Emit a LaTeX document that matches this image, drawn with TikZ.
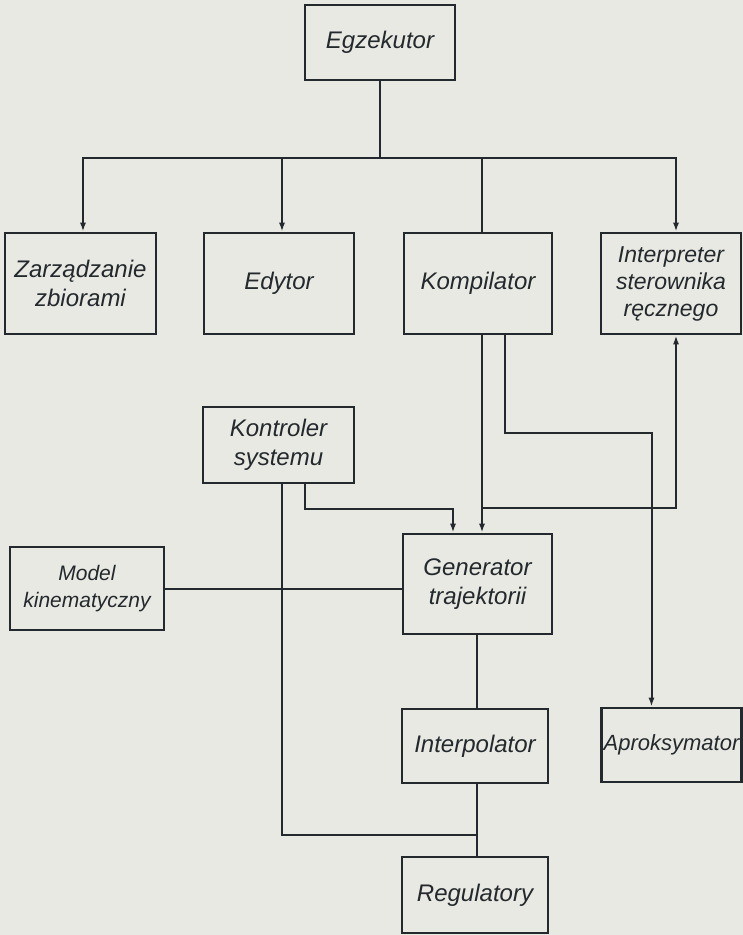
\documentclass[tikz,border=0pt]{standalone}
\usepackage{fontspec}
\setmainfont{Liberation Sans}
\usetikzlibrary{arrows.meta}
\definecolor{ink}{HTML}{23292C}
\definecolor{paper}{HTML}{E9E9E3}

\begin{document}
\begin{tikzpicture}[x=1pt,y=-1pt,
  box/.style={draw=ink,line width=2.6pt,fill=paper,inner sep=2pt,align=center,
    text=ink,font=\fontsize{24}{29}\selectfont\itshape},
  wire/.style={draw=ink,line width=2pt},
  arr/.style={wire,-{Latex[length=9pt,width=6pt]}}]
\fill[paper] (0,0) rectangle (743,935);
\useasboundingbox (0,0) rectangle (743,935);

\node[box,minimum width=150pt,minimum height=75pt] (egz) at (380,42.5) {Egzekutor};
\node[box,minimum width=151pt,minimum height=101pt] (zarz) at (80.5,283.5) {Zarządzanie\\zbiorami};
\node[box,minimum width=150pt,minimum height=101pt] (edyt) at (279,283.5) {Edytor};
\node[box,minimum width=148pt,minimum height=101pt] (komp) at (478,283.5) {Kompilator};
\node[box,minimum width=140pt,minimum height=101pt,font=\fontsize{23}{27}\selectfont\itshape] (inter) at (671,283.5) {Interpreter\\sterownika\\ręcznego};
\node[box,minimum width=151pt,minimum height=76pt] (kontr) at (278.5,445) {Kontroler\\systemu};
\node[box,minimum width=154pt,minimum height=83pt,font=\fontsize{21}{27}\selectfont\itshape] (model) at (87,588.5) {Model\\kinematyczny};
\node[box,minimum width=149pt,minimum height=100pt] (gen) at (477.5,584) {Generator\\trajektorii};
\node[box,minimum width=146pt,minimum height=74pt] (interp) at (475,746) {Interpolator};
\node[box,minimum width=139pt,minimum height=74pt,font=\fontsize{22}{26}\selectfont\itshape] (aprok) at (671.5,745) {Aproksymator};
\node[box,minimum width=146pt,minimum height=76pt] (reg) at (475,895) {Regulatory};

\coordinate (bus) at (380,158);
\coordinate (jn) at (482,508);
\coordinate (jr) at (477,835);

\draw[wire] (egz) -- (bus);
\draw[arr] (bus) -| ([xshift=2.5pt]zarz.north);
\draw[arr] (bus) -| ([xshift=3pt]edyt.north);
\draw[wire] (bus) -| ([xshift=4pt]komp.north);
\draw[arr] (bus) -| ([xshift=5pt]inter.north);

\draw[arr] (jn |- komp.south) -- (jn |- gen.north);
\draw[wire,{Latex[length=9pt,width=6pt]}-] ([xshift=5pt]inter.south) |- (jn);
\draw[arr] ([xshift=27pt]komp.south) -- ++(0,98) -| ([xshift=-20pt]aprok.north);

\draw[wire] ([xshift=3.5pt]kontr.south) |- (jr);
\draw[arr] ([xshift=26.5pt]kontr.south) -- ++(0,25) -| ([xshift=-24.5pt]gen.north);
\draw[wire] (model.east) -- (model.east -| gen.west);

\draw[wire] (jr |- gen.south) -- (jr |- interp.north);
\draw[wire] (jr |- interp.south) -- (jr |- reg.north);
\end{tikzpicture}
\end{document}
